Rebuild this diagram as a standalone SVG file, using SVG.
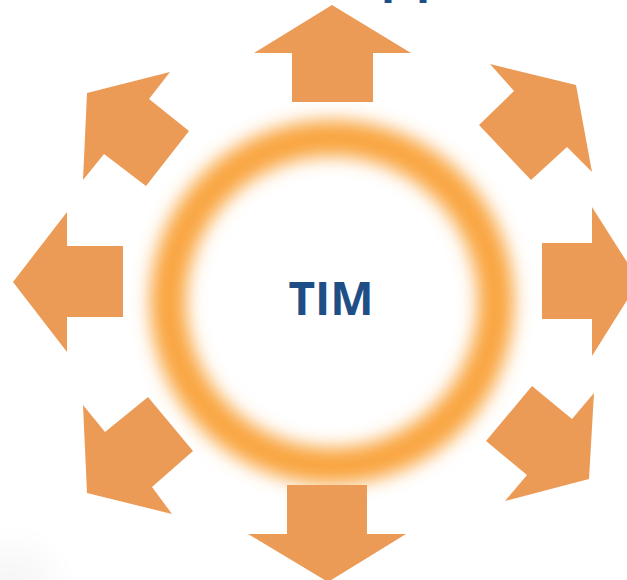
<svg xmlns="http://www.w3.org/2000/svg" width="627" height="580" viewBox="0 0 627 580">
  <defs>
    <style>
      .arrow { fill: #EB9B56; stroke: none; }
      .label { font-family: "Open Sans", "Liberation Sans", sans-serif; font-weight: bold; fill: #1F4E86; }
    </style>
    <filter id="blur" x="-30%" y="-30%" width="160%" height="160%">
      <feGaussianBlur stdDeviation="9"/>
    </filter>
    <filter id="soft" x="-50%" y="-50%" width="200%" height="200%">
      <feGaussianBlur stdDeviation="18"/>
    </filter>
  </defs>
  <rect width="627" height="580" fill="#FFFFFF"/>
  <ellipse cx="10" cy="585" rx="45" ry="40" fill="#000" opacity="0.03" filter="url(#soft)"/>

  <text class="label" x="381" y="-8" font-size="46" letter-spacing="6">pp</text>

  <g id="center">
    <circle cx="332" cy="302" r="164" fill="none" stroke="#F9A53F" stroke-width="36" filter="url(#blur)"/>
    <text class="label" x="331" y="315" font-size="46" text-anchor="middle">TIM</text>
  </g>

  <g id="connectors">
    <g id="arrow-n"><polygon class="arrow" points="332,5 411,53 373,53 373,102 292,102 292,53 254,53"/></g>
    <g id="arrow-ne"><polygon class="arrow" points="490,64 576,85 592,172 567,147 531,180 479,125 514,91"/></g>
    <g id="arrow-e"><polygon class="arrow" points="542,243 592,243 592,207 639,281 592,356 592,319 542,319"/></g>
    <g id="arrow-se"><polygon class="arrow" points="532,386 572,419 594,393 589,479 505,501 527,475 486,441"/></g>
    <g id="arrow-s"><polygon class="arrow" points="287,485 367,485 367,534 406,534 328,582 248,534 287,534"/></g>
    <g id="arrow-sw"><polygon class="arrow" points="83,405 105,432 148,397 193,451 152,487 172,514 87,493"/></g>
    <g id="arrow-w"><polygon class="arrow" points="13,282 67,212 67,246 123,246 123,317 67,317 67,352"/></g>
    <g id="arrow-nw"><polygon class="arrow" points="87,93 170,72 149,99 189,131 146,186 104,154 83,180"/></g>
  </g>
</svg>
